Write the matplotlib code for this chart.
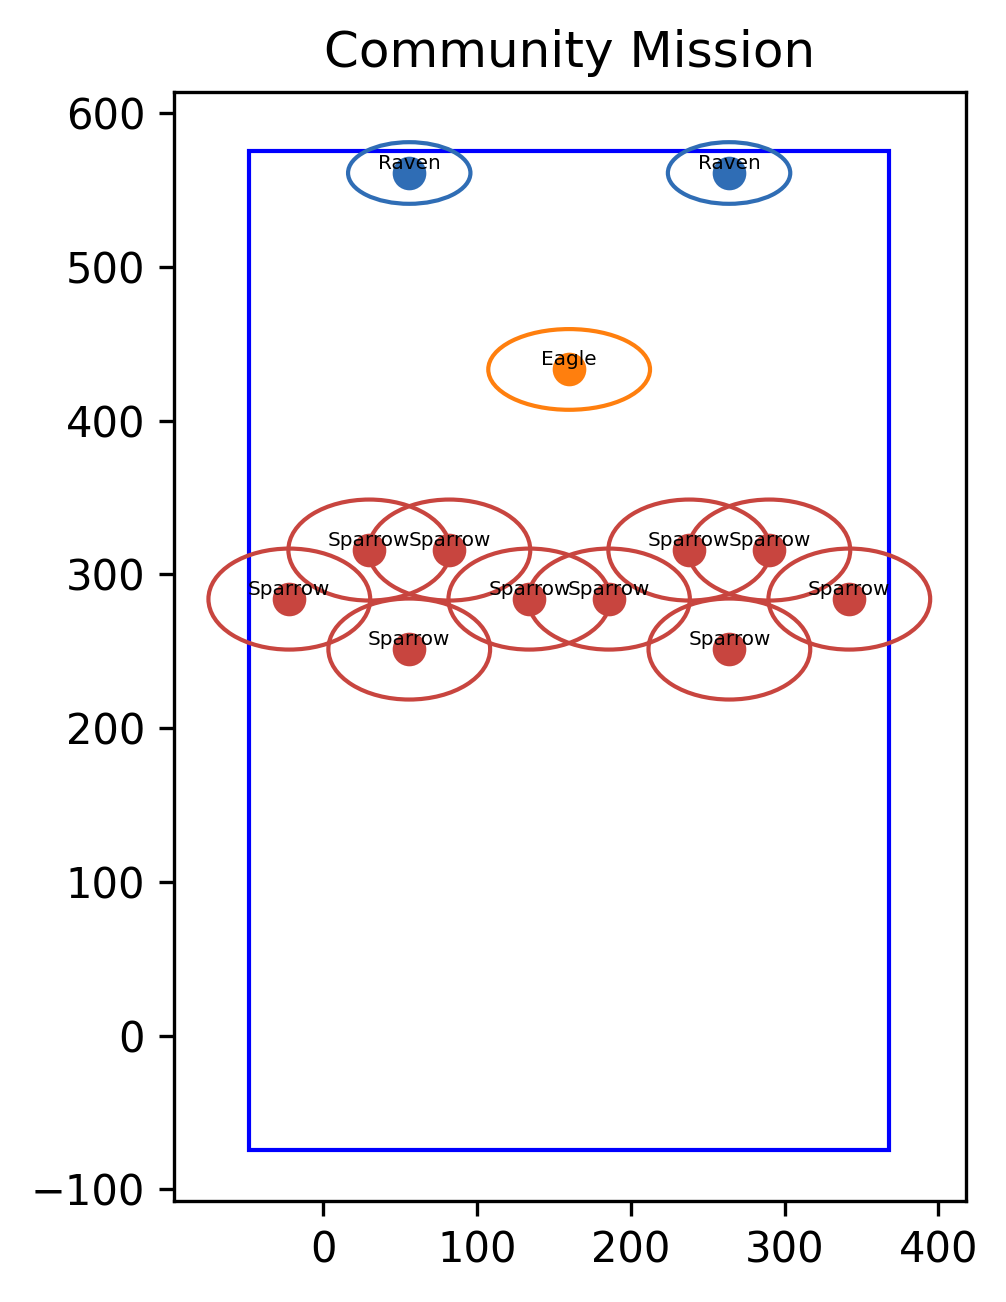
import matplotlib
matplotlib.use("Agg")
from matplotlib import pyplot as plt
from matplotlib.patches import Ellipse, Rectangle

# agents in the formation
names = ['Raven', 'Raven', 'Eagle',
         'Sparrow', 'Sparrow', 'Sparrow', 'Sparrow', 'Sparrow',
         'Sparrow', 'Sparrow', 'Sparrow', 'Sparrow', 'Sparrow']
x = [55.9, 263.9, 159.9,
     -22.1, 29.9, 55.9, 82.0, 134.0,
     185.8, 238.0, 264.1, 290.1, 342.1]
y = [561.2, 561.2, 433.4,
     284.0, 315.9, 251.5, 315.9, 284.0,
     284.0, 315.9, 251.5, 315.9, 284.0]

# ellipse (width, height) per kind
ell_w = {'Raven': 79.6, 'Eagle': 105.2, 'Sparrow': 105.2}
ell_h = {'Raven': 40.1, 'Eagle': 52.5, 'Sparrow': 65.7}
colors = {'Raven': '#2f6db5', 'Eagle': '#ff7f0e', 'Sparrow': '#c8453f'}

# mission area
area_x, area_y = -48.5, -74.4
area_w, area_h = 416.2, 650.1

fig = plt.figure(figsize=(1007 / 300, 1302 / 300), dpi=300)
ax = fig.add_axes([174.3 / 1007, 1 - 1200.7 / 1302,
                   (965.7 - 174.3) / 1007, (1200.7 - 92.3) / 1302])

ax.add_patch(Rectangle((area_x, area_y), area_w, area_h,
                       fill=False, edgecolor='blue', linewidth=1.0))

for i in range(len(names)):
    n = names[i]
    c = colors[n]
    ax.add_patch(Ellipse((x[i], y[i]), ell_w[n], ell_h[n],
                         fill=False, edgecolor=c, linewidth=1.0))
    ax.scatter(x[i], y[i], color=c, s=50, zorder=3)
    ax.text(x[i], y[i], n, ha='center', va='bottom', fontsize=4.8, zorder=4)

ax.set_xlim(-96.9, 417.8)
ax.set_ylim(-107.4, 613.7)
ax.set_xticks([0, 100, 200, 300, 400])
ax.set_yticks([-100, 0, 100, 200, 300, 400, 500, 600])
ax.set_title('Community Mission', fontsize=12)

fig.savefig('out.png', dpi=300)
